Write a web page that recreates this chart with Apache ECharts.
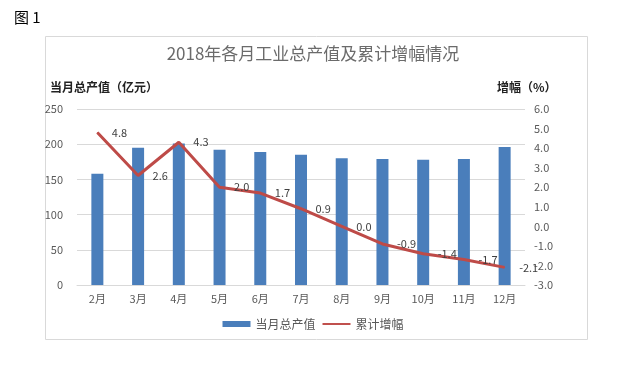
<!DOCTYPE html>
<html><head><meta charset="utf-8">
<script src="https://cdn.jsdelivr.net/npm/echarts@6/dist/echarts.min.js"></script>
<style>html,body{margin:0;padding:0;background:#fff}#c{width:626px;height:365px}</style>
</head><body><div id="c"></div>
<script>
const categories = ['2月','3月','4月','5月','6月','7月','8月','9月','10月','11月','12月'];
const outputValues = [158, 195, 201, 192, 189, 185, 180, 179, 178, 179, 196];
const growthValues = [4.8, 2.6, 4.3, 2.0, 1.7, 0.9, 0.0, -0.9, -1.4, -1.7, -2.1];
const leftTicks = [0, 50, 100, 150, 200, 250];
const rightTicks = [-3, -2, -1, 0, 1, 2, 3, 4, 5, 6];

const chart = echarts.init(document.getElementById('c'), null, {renderer:'canvas'});
const font = '"Microsoft YaHei","Noto Sans CJK SC",sans-serif';
chart.setOption({
  animation:false,
  textStyle:{fontFamily:font},
  graphic:[
    {type:'rect', shape:{x:45.5,y:36.5,width:542,height:303}, style:{fill:'none',stroke:'#d9d9d9',lineWidth:1}, z:-1},
    {type:'text', left:14, top:10, style:{text:'图 1', font:'15px '+font, fill:'#000'}},
    {type:'text', left:50, top:81, style:{text:'当月总产值（亿元）', font:'bold 12px '+font, fill:'#222'}},
    {type:'text', left:497, top:81, style:{text:'增幅（%）', font:'bold 12px '+font, fill:'#222'}}
  ],
  title:{text:'2018年各月工业总产值及累计增幅情况', left:'center', top:40,
    textStyle:{fontSize:17, fontWeight:'normal', color:'#6b6b6b', fontFamily:font}},
  legend:{bottom:30, left:'center', itemGap:6, itemWidth:28, itemHeight:6,
    textStyle:{fontSize:12, color:'#595959'},
    data:[{name:'当月总产值', icon:'rect'},
          {name:'累计增幅', itemStyle:{color:'#c0504d', opacity:0}, lineStyle:{color:'#c0504d', width:2}}]},
  grid:{left:77, right:101, top:109, bottom:80},
  xAxis:{type:'category', data:categories,
    axisLine:{lineStyle:{color:'#d9d9d9'}}, axisTick:{show:false},
    axisLabel:{color:'#595959', fontSize:11, margin:8}},
  yAxis:[
    {type:'value', min:0, max:250, interval:50,
     axisLabel:{color:'#595959', fontSize:11, margin:14},
     splitLine:{lineStyle:{color:'#d9d9d9'}}, axisLine:{show:false}, axisTick:{show:false}},
    {type:'value', min:-3, max:6, interval:1,
     axisLabel:{color:'#595959', fontSize:11, margin:9, formatter:v=>v.toFixed(1)},
     splitLine:{show:false}, axisLine:{show:false}, axisTick:{show:false}}
  ],
  series:[
    {name:'当月总产值', type:'bar', data:outputValues, barWidth:12,
     itemStyle:{color:'#4a7ebb'}, yAxisIndex:0},
    {name:'累计增幅', type:'line', data:growthValues, yAxisIndex:1, symbol:'circle', symbolSize:1, showSymbol:true,
     lineStyle:{color:'#be4b48', width:3}, itemStyle:{color:'#be4b48'},
     labelLayout:{hideOverlap:false},
     label:{show:true, position:'right', distance:14, color:'#404040', fontSize:11,
       formatter:p=>Number(p.value).toFixed(1)}, z:3}
  ]
});
</script></body></html>
